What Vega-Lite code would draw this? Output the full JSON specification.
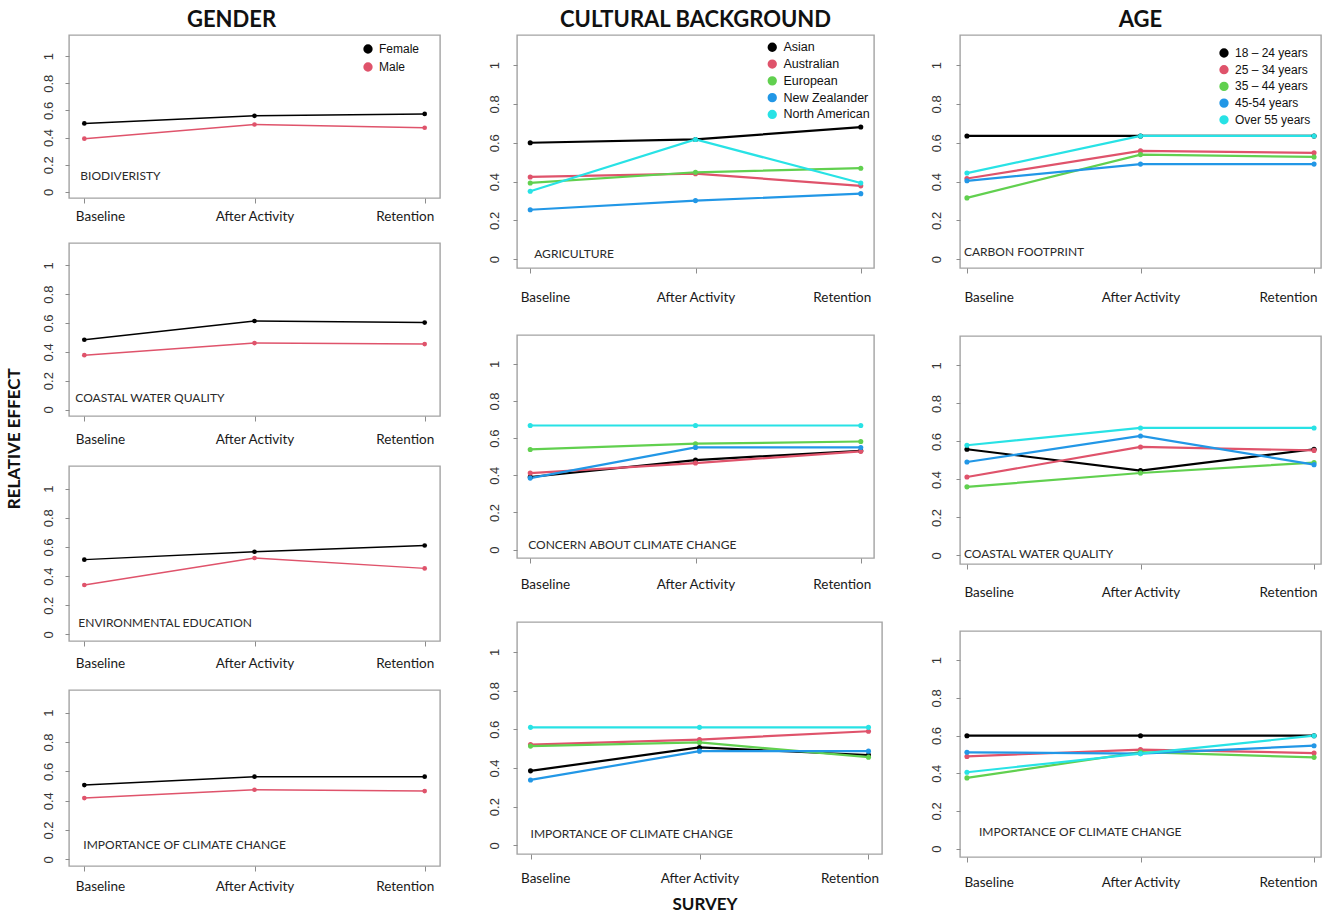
{
"$schema": "https://vega.github.io/schema/vega-lite/v6.json",
"padding": {"left": 6, "top": 8, "right": 0, "bottom": 0},
"background": "white",
"datasets": {"d": [
{"p":"G1","g":"Female","s":"Baseline","v":0.504},{"p":"G1","g":"Female","s":"After Activity","v":0.56},{"p":"G1","g":"Female","s":"Retention","v":0.574},
{"p":"G1","g":"Male","s":"Baseline","v":0.392},{"p":"G1","g":"Male","s":"After Activity","v":0.496},{"p":"G1","g":"Male","s":"Retention","v":0.472},
{"p":"G2","g":"Female","s":"Baseline","v":0.484},{"p":"G2","g":"Female","s":"After Activity","v":0.614},{"p":"G2","g":"Female","s":"Retention","v":0.603},
{"p":"G2","g":"Male","s":"Baseline","v":0.377},{"p":"G2","g":"Male","s":"After Activity","v":0.461},{"p":"G2","g":"Male","s":"Retention","v":0.454},
{"p":"G3","g":"Female","s":"Baseline","v":0.513},{"p":"G3","g":"Female","s":"After Activity","v":0.567},{"p":"G3","g":"Female","s":"Retention","v":0.61},
{"p":"G3","g":"Male","s":"Baseline","v":0.339},{"p":"G3","g":"Male","s":"After Activity","v":0.524},{"p":"G3","g":"Male","s":"Retention","v":0.453},
{"p":"G4","g":"Female","s":"Baseline","v":0.507},{"p":"G4","g":"Female","s":"After Activity","v":0.564},{"p":"G4","g":"Female","s":"Retention","v":0.564},
{"p":"G4","g":"Male","s":"Baseline","v":0.418},{"p":"G4","g":"Male","s":"After Activity","v":0.475},{"p":"G4","g":"Male","s":"Retention","v":0.466},
{"p":"C1","g":"Asian","s":"Baseline","v":0.6},{"p":"C1","g":"Asian","s":"After Activity","v":0.617},{"p":"C1","g":"Asian","s":"Retention","v":0.681},
{"p":"C1","g":"Australian","s":"Baseline","v":0.424},{"p":"C1","g":"Australian","s":"After Activity","v":0.441},{"p":"C1","g":"Australian","s":"Retention","v":0.378},
{"p":"C1","g":"European","s":"Baseline","v":0.393},{"p":"C1","g":"European","s":"After Activity","v":0.448},{"p":"C1","g":"European","s":"Retention","v":0.469},
{"p":"C1","g":"New Zealander","s":"Baseline","v":0.255},{"p":"C1","g":"New Zealander","s":"After Activity","v":0.302},{"p":"C1","g":"New Zealander","s":"Retention","v":0.338},
{"p":"C1","g":"North American","s":"Baseline","v":0.35},{"p":"C1","g":"North American","s":"After Activity","v":0.617},{"p":"C1","g":"North American","s":"Retention","v":0.393},
{"p":"C2","g":"Asian","s":"Baseline","v":0.391},{"p":"C2","g":"Asian","s":"After Activity","v":0.482},{"p":"C2","g":"Asian","s":"Retention","v":0.532},
{"p":"C2","g":"Australian","s":"Baseline","v":0.412},{"p":"C2","g":"Australian","s":"After Activity","v":0.466},{"p":"C2","g":"Australian","s":"Retention","v":0.529},
{"p":"C2","g":"European","s":"Baseline","v":0.539},{"p":"C2","g":"European","s":"After Activity","v":0.57},{"p":"C2","g":"European","s":"Retention","v":0.582},
{"p":"C2","g":"New Zealander","s":"Baseline","v":0.385},{"p":"C2","g":"New Zealander","s":"After Activity","v":0.55},{"p":"C2","g":"New Zealander","s":"Retention","v":0.55},
{"p":"C2","g":"North American","s":"Baseline","v":0.668},{"p":"C2","g":"North American","s":"After Activity","v":0.668},{"p":"C2","g":"North American","s":"Retention","v":0.668},
{"p":"C3","g":"Asian","s":"Baseline","v":0.385},{"p":"C3","g":"Asian","s":"After Activity","v":0.506},{"p":"C3","g":"Asian","s":"Retention","v":0.467},
{"p":"C3","g":"Australian","s":"Baseline","v":0.521},{"p":"C3","g":"Australian","s":"After Activity","v":0.547},{"p":"C3","g":"Australian","s":"Retention","v":0.59},
{"p":"C3","g":"European","s":"Baseline","v":0.513},{"p":"C3","g":"European","s":"After Activity","v":0.532},{"p":"C3","g":"European","s":"Retention","v":0.456},
{"p":"C3","g":"New Zealander","s":"Baseline","v":0.338},{"p":"C3","g":"New Zealander","s":"After Activity","v":0.487},{"p":"C3","g":"New Zealander","s":"Retention","v":0.487},
{"p":"C3","g":"North American","s":"Baseline","v":0.61},{"p":"C3","g":"North American","s":"After Activity","v":0.61},{"p":"C3","g":"North American","s":"Retention","v":0.61},
{"p":"A1","g":"18 – 24 years","s":"Baseline","v":0.635},{"p":"A1","g":"18 – 24 years","s":"After Activity","v":0.635},{"p":"A1","g":"18 – 24 years","s":"Retention","v":0.635},
{"p":"A1","g":"25 – 34 years","s":"Baseline","v":0.416},{"p":"A1","g":"25 – 34 years","s":"After Activity","v":0.558},{"p":"A1","g":"25 – 34 years","s":"Retention","v":0.548},
{"p":"A1","g":"35 – 44 years","s":"Baseline","v":0.316},{"p":"A1","g":"35 – 44 years","s":"After Activity","v":0.539},{"p":"A1","g":"35 – 44 years","s":"Retention","v":0.527},
{"p":"A1","g":"45-54 years","s":"Baseline","v":0.404},{"p":"A1","g":"45-54 years","s":"After Activity","v":0.49},{"p":"A1","g":"45-54 years","s":"Retention","v":0.49},
{"p":"A1","g":"Over 55 years","s":"Baseline","v":0.444},{"p":"A1","g":"Over 55 years","s":"After Activity","v":0.635},{"p":"A1","g":"Over 55 years","s":"Retention","v":0.635},
{"p":"A2","g":"18 – 24 years","s":"Baseline","v":0.559},{"p":"A2","g":"18 – 24 years","s":"After Activity","v":0.447},{"p":"A2","g":"18 – 24 years","s":"Retention","v":0.559},
{"p":"A2","g":"25 – 34 years","s":"Baseline","v":0.413},{"p":"A2","g":"25 – 34 years","s":"After Activity","v":0.571},{"p":"A2","g":"25 – 34 years","s":"Retention","v":0.553},
{"p":"A2","g":"35 – 44 years","s":"Baseline","v":0.361},{"p":"A2","g":"35 – 44 years","s":"After Activity","v":0.434},{"p":"A2","g":"35 – 44 years","s":"Retention","v":0.489},
{"p":"A2","g":"45-54 years","s":"Baseline","v":0.492},{"p":"A2","g":"45-54 years","s":"After Activity","v":0.629},{"p":"A2","g":"45-54 years","s":"Retention","v":0.478},
{"p":"A2","g":"Over 55 years","s":"Baseline","v":0.58},{"p":"A2","g":"Over 55 years","s":"After Activity","v":0.671},{"p":"A2","g":"Over 55 years","s":"Retention","v":0.671},
{"p":"A3","g":"18 – 24 years","s":"Baseline","v":0.599},{"p":"A3","g":"18 – 24 years","s":"After Activity","v":0.599},{"p":"A3","g":"18 – 24 years","s":"Retention","v":0.599},
{"p":"A3","g":"25 – 34 years","s":"Baseline","v":0.489},{"p":"A3","g":"25 – 34 years","s":"After Activity","v":0.525},{"p":"A3","g":"25 – 34 years","s":"Retention","v":0.507},
{"p":"A3","g":"35 – 44 years","s":"Baseline","v":0.375},{"p":"A3","g":"35 – 44 years","s":"After Activity","v":0.512},{"p":"A3","g":"35 – 44 years","s":"Retention","v":0.484},
{"p":"A3","g":"45-54 years","s":"Baseline","v":0.511},{"p":"A3","g":"45-54 years","s":"After Activity","v":0.504},{"p":"A3","g":"45-54 years","s":"Retention","v":0.546},
{"p":"A3","g":"Over 55 years","s":"Baseline","v":0.405},{"p":"A3","g":"Over 55 years","s":"After Activity","v":0.504},{"p":"A3","g":"Over 55 years","s":"Retention","v":0.599}
]},
"config": {
 "view": {"stroke": "#a3a3a3", "strokeWidth": 1.4},
 "axis": {"grid": false, "domain": false, "tickColor": "#8c8c8c", "tickWidth": 1, "title": null, "labelOverlap": false},
 "axisX": {"labelAngle": 0, "labelFont": "Lato", "labelFontSize": 13.5, "labelColor": "#1a1a1a", "tickSize": 5},
 "axisY": {"labelAngle": 270, "labelAlign": "center", "labelBaseline": "bottom", "labelFont": "Liberation Sans", "labelFontSize": 13, "labelColor": "#333333", "tickSize": 4},
 "title": {"font": "Lato", "fontWeight": "bold", "color": "#111111", "anchor": "middle"},
 "legend": {"orient": "none", "title": null, "symbolType": "circle", "symbolSize": 40, "symbolStrokeWidth": 3, "labelFont": "Liberation Sans", "labelFontSize": 12, "labelColor": "#111111", "padding": 0, "labelOffset": 5}
},
"spacing": 46,
"resolve": {"scale": {"color": "independent"}, "legend": {"color": "independent"}},
"hconcat": [
{
 "title": {"text": "RELATIVE EFFECT", "orient": "left", "fontSize": 17, "offset": 17, "dx": 12},
 "spacing": 18,
 "resolve": {"scale": {"color": "independent"}, "legend": {"color": "independent"}},
 "vconcat": [
  {"width": 371, "height": 163,
   "title": {"text": "GENDER", "fontSize": 22, "offset": 3, "frame": "group", "dx": -23},
   "data": {"name": "d"}, "transform": [{"filter": "datum.p == 'G1'"}],
   "encoding": {
    "x": {"field": "s", "type": "ordinal", "scale": {"type": "point", "domain": ["Baseline","After Activity","Retention"], "padding": 0.09}, "axis": {"labelFlush": 30, "labelFlushOffset": 9, "labelPadding": 6}},
    "y": {"field": "v", "type": "quantitative", "scale": {"domain": [-0.045, 1.155], "nice": false, "zero": false}, "axis": {"values": [0,0.2,0.4,0.6,0.8,1], "format": "~g", "labelPadding": 10}},
    "color": {"field": "g", "type": "nominal", "scale": {"domain": ["Female","Male"], "range": ["#000000","#DF536B"]}, "legend": {"legendX": 293, "legendY": 8, "rowPadding": -2}}
   },
   "layer": [
    {"mark": {"type": "line", "strokeWidth": 1.5}},
    {"mark": {"type": "point", "filled": true, "size": 22, "opacity": 1}},
    {"transform": [{"filter": "datum.g == 'Female' && datum.s == 'Baseline'"}],
     "mark": {"type": "text", "text": "BIODIVERISTY", "align": "left", "baseline": "middle", "font": "Lato", "fontSize": 12, "dx": -4, "color": "#2a2a2a"},
     "encoding": {"x": {"datum": "Baseline", "type": "ordinal"}, "y": {"datum": 0.117, "type": "quantitative"}, "color": {"value": "#2a2a2a"}}}
   ]},
  {"width": 371, "height": 173,
   "data": {"name": "d"}, "transform": [{"filter": "datum.p == 'G2'"}],
   "encoding": {
    "x": {"field": "s", "type": "ordinal", "scale": {"type": "point", "domain": ["Baseline","After Activity","Retention"], "padding": 0.09}, "axis": {"labelFlush": 30, "labelFlushOffset": 9, "labelPadding": 11}},
    "y": {"field": "v", "type": "quantitative", "scale": {"domain": [-0.045, 1.155], "nice": false, "zero": false}, "axis": {"values": [0,0.2,0.4,0.6,0.8,1], "format": "~g", "labelPadding": 10}},
    "color": {"field": "g", "type": "nominal", "scale": {"domain": ["Female","Male"], "range": ["#000000","#DF536B"]}, "legend": null}
   },
   "layer": [
    {"mark": {"type": "line", "strokeWidth": 1.5}},
    {"mark": {"type": "point", "filled": true, "size": 22, "opacity": 1}},
    {"transform": [{"filter": "datum.g == 'Female' && datum.s == 'Baseline'"}],
     "mark": {"type": "text", "text": "COASTAL WATER QUALITY", "align": "left", "baseline": "middle", "font": "Lato", "fontSize": 12, "dx": -9, "color": "#2a2a2a"},
     "encoding": {"x": {"datum": "Baseline", "type": "ordinal"}, "y": {"datum": 0.08, "type": "quantitative"}, "color": {"value": "#2a2a2a"}}}
   ]},
  {"width": 371, "height": 175,
   "data": {"name": "d"}, "transform": [{"filter": "datum.p == 'G3'"}],
   "encoding": {
    "x": {"field": "s", "type": "ordinal", "scale": {"type": "point", "domain": ["Baseline","After Activity","Retention"], "padding": 0.09}, "axis": {"labelFlush": 30, "labelFlushOffset": 9, "labelPadding": 10}},
    "y": {"field": "v", "type": "quantitative", "scale": {"domain": [-0.045, 1.155], "nice": false, "zero": false}, "axis": {"values": [0,0.2,0.4,0.6,0.8,1], "format": "~g", "labelPadding": 10}},
    "color": {"field": "g", "type": "nominal", "scale": {"domain": ["Female","Male"], "range": ["#000000","#DF536B"]}, "legend": null}
   },
   "layer": [
    {"mark": {"type": "line", "strokeWidth": 1.5}},
    {"mark": {"type": "point", "filled": true, "size": 22, "opacity": 1}},
    {"transform": [{"filter": "datum.g == 'Female' && datum.s == 'Baseline'"}],
     "mark": {"type": "text", "text": "ENVIRONMENTAL EDUCATION", "align": "left", "baseline": "middle", "font": "Lato", "fontSize": 12, "dx": -6, "color": "#2a2a2a"},
     "encoding": {"x": {"datum": "Baseline", "type": "ordinal"}, "y": {"datum": 0.08, "type": "quantitative"}, "color": {"value": "#2a2a2a"}}}
   ]},
  {"width": 371, "height": 176,
   "data": {"name": "d"}, "transform": [{"filter": "datum.p == 'G4'"}],
   "encoding": {
    "x": {"field": "s", "type": "ordinal", "scale": {"type": "point", "domain": ["Baseline","After Activity","Retention"], "padding": 0.09}, "axis": {"labelFlush": 30, "labelFlushOffset": 9, "labelPadding": 8}},
    "y": {"field": "v", "type": "quantitative", "scale": {"domain": [-0.045, 1.155], "nice": false, "zero": false}, "axis": {"values": [0,0.2,0.4,0.6,0.8,1], "format": "~g", "labelPadding": 10}},
    "color": {"field": "g", "type": "nominal", "scale": {"domain": ["Female","Male"], "range": ["#000000","#DF536B"]}, "legend": null}
   },
   "layer": [
    {"mark": {"type": "line", "strokeWidth": 1.5}},
    {"mark": {"type": "point", "filled": true, "size": 22, "opacity": 1}},
    {"transform": [{"filter": "datum.g == 'Female' && datum.s == 'Baseline'"}],
     "mark": {"type": "text", "text": "IMPORTANCE OF CLIMATE CHANGE", "align": "left", "baseline": "middle", "font": "Lato", "fontSize": 12, "dx": -1, "color": "#2a2a2a"},
     "encoding": {"x": {"datum": "Baseline", "type": "ordinal"}, "y": {"datum": 0.1, "type": "quantitative"}, "color": {"value": "#2a2a2a"}}}
   ]}
 ]
},
{
 "title": {"text": "SURVEY", "orient": "bottom", "fontSize": 17, "offset": 12, "dx": 20},
 "spacing": 29,
 "resolve": {"scale": {"color": "independent"}, "legend": {"color": "independent"}},
 "vconcat": [
  {"width": 357, "height": 233,
   "title": {"text": "CULTURAL BACKGROUND", "fontSize": 22, "offset": 3, "frame": "group"},
   "data": {"name": "d"}, "transform": [{"filter": "datum.p == 'C1'"}],
   "encoding": {
    "x": {"field": "s", "type": "ordinal", "scale": {"type": "point", "domain": ["Baseline","After Activity","Retention"], "padding": 0.08}, "axis": {"labelFlush": 30, "labelFlushOffset": 10, "labelPadding": 17}},
    "y": {"field": "v", "type": "quantitative", "scale": {"domain": [-0.045, 1.155], "nice": false, "zero": false}, "axis": {"values": [0,0.2,0.4,0.6,0.8,1], "format": "~g", "labelPadding": 12}},
    "color": {"field": "g", "type": "nominal", "scale": {"domain": ["Asian","Australian","European","New Zealander","North American"], "range": ["#000000","#DF536B","#61D04F","#2297E6","#28E2E5"]}, "legend": {"legendX": 249, "legendY": 6, "rowPadding": -2.2, "labelFontSize": 12.5}}
   },
   "layer": [
    {"mark": {"type": "line", "strokeWidth": 2.2}},
    {"mark": {"type": "point", "filled": true, "size": 26, "opacity": 1}},
    {"transform": [{"filter": "datum.g == 'Asian' && datum.s == 'Baseline'"}],
     "mark": {"type": "text", "text": "AGRICULTURE", "align": "left", "baseline": "middle", "font": "Lato", "fontSize": 12, "dx": 4, "color": "#2a2a2a"},
     "encoding": {"x": {"datum": "Baseline", "type": "ordinal"}, "y": {"datum": 0.026, "type": "quantitative"}, "color": {"value": "#2a2a2a"}}}
   ]},
  {"width": 357, "height": 223,
   "data": {"name": "d"}, "transform": [{"filter": "datum.p == 'C2'"}],
   "encoding": {
    "x": {"field": "s", "type": "ordinal", "scale": {"type": "point", "domain": ["Baseline","After Activity","Retention"], "padding": 0.08}, "axis": {"labelFlush": 30, "labelFlushOffset": 10, "labelPadding": 14}},
    "y": {"field": "v", "type": "quantitative", "scale": {"domain": [-0.045, 1.155], "nice": false, "zero": false}, "axis": {"values": [0,0.2,0.4,0.6,0.8,1], "format": "~g", "labelPadding": 12}},
    "color": {"field": "g", "type": "nominal", "scale": {"domain": ["Asian","Australian","European","New Zealander","North American"], "range": ["#000000","#DF536B","#61D04F","#2297E6","#28E2E5"]}, "legend": null}
   },
   "layer": [
    {"mark": {"type": "line", "strokeWidth": 2.2}},
    {"mark": {"type": "point", "filled": true, "size": 26, "opacity": 1}},
    {"transform": [{"filter": "datum.g == 'Asian' && datum.s == 'Baseline'"}],
     "mark": {"type": "text", "text": "CONCERN ABOUT CLIMATE CHANGE", "align": "left", "baseline": "middle", "font": "Lato", "fontSize": 12, "dx": -2, "color": "#2a2a2a"},
     "encoding": {"x": {"datum": "Baseline", "type": "ordinal"}, "y": {"datum": 0.027, "type": "quantitative"}, "color": {"value": "#2a2a2a"}}}
   ]},
  {"width": 365, "height": 232,
   "data": {"name": "d"}, "transform": [{"filter": "datum.p == 'C3'"}],
   "encoding": {
    "x": {"field": "s", "type": "ordinal", "scale": {"type": "point", "domain": ["Baseline","After Activity","Retention"], "padding": 0.08}, "axis": {"labelFlush": 30, "labelFlushOffset": 10, "labelPadding": 12}},
    "y": {"field": "v", "type": "quantitative", "scale": {"domain": [-0.045, 1.155], "nice": false, "zero": false}, "axis": {"values": [0,0.2,0.4,0.6,0.8,1], "format": "~g", "labelPadding": 12}},
    "color": {"field": "g", "type": "nominal", "scale": {"domain": ["Asian","Australian","European","New Zealander","North American"], "range": ["#000000","#DF536B","#61D04F","#2297E6","#28E2E5"]}, "legend": null}
   },
   "layer": [
    {"mark": {"type": "line", "strokeWidth": 2.2}},
    {"mark": {"type": "point", "filled": true, "size": 26, "opacity": 1}},
    {"transform": [{"filter": "datum.g == 'Asian' && datum.s == 'Baseline'"}],
     "mark": {"type": "text", "text": "IMPORTANCE OF CLIMATE CHANGE", "align": "left", "baseline": "middle", "font": "Lato", "fontSize": 12, "dx": 0, "color": "#2a2a2a"},
     "encoding": {"x": {"datum": "Baseline", "type": "ordinal"}, "y": {"datum": 0.056, "type": "quantitative"}, "color": {"value": "#2a2a2a"}}}
   ]}
 ]
},
{
 "spacing": 30,
 "resolve": {"scale": {"color": "independent"}, "legend": {"color": "independent"}},
 "vconcat": [
  {"width": 361, "height": 233,
   "title": {"text": "AGE", "fontSize": 22, "offset": 3, "frame": "group"},
   "data": {"name": "d"}, "transform": [{"filter": "datum.p == 'A1'"}],
   "encoding": {
    "x": {"field": "s", "type": "ordinal", "scale": {"type": "point", "domain": ["Baseline","After Activity","Retention"], "padding": 0.04}, "axis": {"labelFlush": 30, "labelFlushOffset": 3, "labelPadding": 17}},
    "y": {"field": "v", "type": "quantitative", "scale": {"domain": [-0.045, 1.155], "nice": false, "zero": false}, "axis": {"values": [0,0.2,0.4,0.6,0.8,1], "format": "~g", "labelPadding": 13}},
    "color": {"field": "g", "type": "nominal", "scale": {"domain": ["18 – 24 years","25 – 34 years","35 – 44 years","45-54 years","Over 55 years"], "range": ["#000000","#DF536B","#61D04F","#2297E6","#28E2E5"]}, "legend": {"legendX": 258, "legendY": 12, "rowPadding": -3.3}}
   },
   "layer": [
    {"mark": {"type": "line", "strokeWidth": 2.2}},
    {"mark": {"type": "point", "filled": true, "size": 26, "opacity": 1}},
    {"transform": [{"filter": "datum.g == 'Over 55 years' && datum.s == 'Baseline'"}],
     "mark": {"type": "text", "text": "CARBON FOOTPRINT", "align": "left", "baseline": "middle", "font": "Lato", "fontSize": 12, "dx": -3, "color": "#2a2a2a"},
     "encoding": {"x": {"datum": "Baseline", "type": "ordinal"}, "y": {"datum": 0.036, "type": "quantitative"}, "color": {"value": "#2a2a2a"}}}
   ]},
  {"width": 361, "height": 228,
   "data": {"name": "d"}, "transform": [{"filter": "datum.p == 'A2'"}],
   "encoding": {
    "x": {"field": "s", "type": "ordinal", "scale": {"type": "point", "domain": ["Baseline","After Activity","Retention"], "padding": 0.04}, "axis": {"labelFlush": 30, "labelFlushOffset": 3, "labelPadding": 16}},
    "y": {"field": "v", "type": "quantitative", "scale": {"domain": [-0.045, 1.155], "nice": false, "zero": false}, "axis": {"values": [0,0.2,0.4,0.6,0.8,1], "format": "~g", "labelPadding": 13}},
    "color": {"field": "g", "type": "nominal", "scale": {"domain": ["18 – 24 years","25 – 34 years","35 – 44 years","45-54 years","Over 55 years"], "range": ["#000000","#DF536B","#61D04F","#2297E6","#28E2E5"]}, "legend": null}
   },
   "layer": [
    {"mark": {"type": "line", "strokeWidth": 2.2}},
    {"mark": {"type": "point", "filled": true, "size": 26, "opacity": 1}},
    {"transform": [{"filter": "datum.g == 'Over 55 years' && datum.s == 'Baseline'"}],
     "mark": {"type": "text", "text": "COASTAL WATER QUALITY", "align": "left", "baseline": "middle", "font": "Lato", "fontSize": 12, "dx": -3, "color": "#2a2a2a"},
     "encoding": {"x": {"datum": "Baseline", "type": "ordinal"}, "y": {"datum": 0.01, "type": "quantitative"}, "color": {"value": "#2a2a2a"}}}
   ]},
  {"width": 361, "height": 226,
   "data": {"name": "d"}, "transform": [{"filter": "datum.p == 'A3'"}],
   "encoding": {
    "x": {"field": "s", "type": "ordinal", "scale": {"type": "point", "domain": ["Baseline","After Activity","Retention"], "padding": 0.04}, "axis": {"labelFlush": 30, "labelFlushOffset": 3, "labelPadding": 13}},
    "y": {"field": "v", "type": "quantitative", "scale": {"domain": [-0.045, 1.155], "nice": false, "zero": false}, "axis": {"values": [0,0.2,0.4,0.6,0.8,1], "format": "~g", "labelPadding": 13}},
    "color": {"field": "g", "type": "nominal", "scale": {"domain": ["18 – 24 years","25 – 34 years","35 – 44 years","45-54 years","Over 55 years"], "range": ["#000000","#DF536B","#61D04F","#2297E6","#28E2E5"]}, "legend": null}
   },
   "layer": [
    {"mark": {"type": "line", "strokeWidth": 2.2}},
    {"mark": {"type": "point", "filled": true, "size": 26, "opacity": 1}},
    {"transform": [{"filter": "datum.g == 'Over 55 years' && datum.s == 'Baseline'"}],
     "mark": {"type": "text", "text": "IMPORTANCE OF CLIMATE CHANGE", "align": "left", "baseline": "middle", "font": "Lato", "fontSize": 12, "dx": 12, "color": "#2a2a2a"},
     "encoding": {"x": {"datum": "Baseline", "type": "ordinal"}, "y": {"datum": 0.09, "type": "quantitative"}, "color": {"value": "#2a2a2a"}}}
   ]}
 ]
}
]
}
